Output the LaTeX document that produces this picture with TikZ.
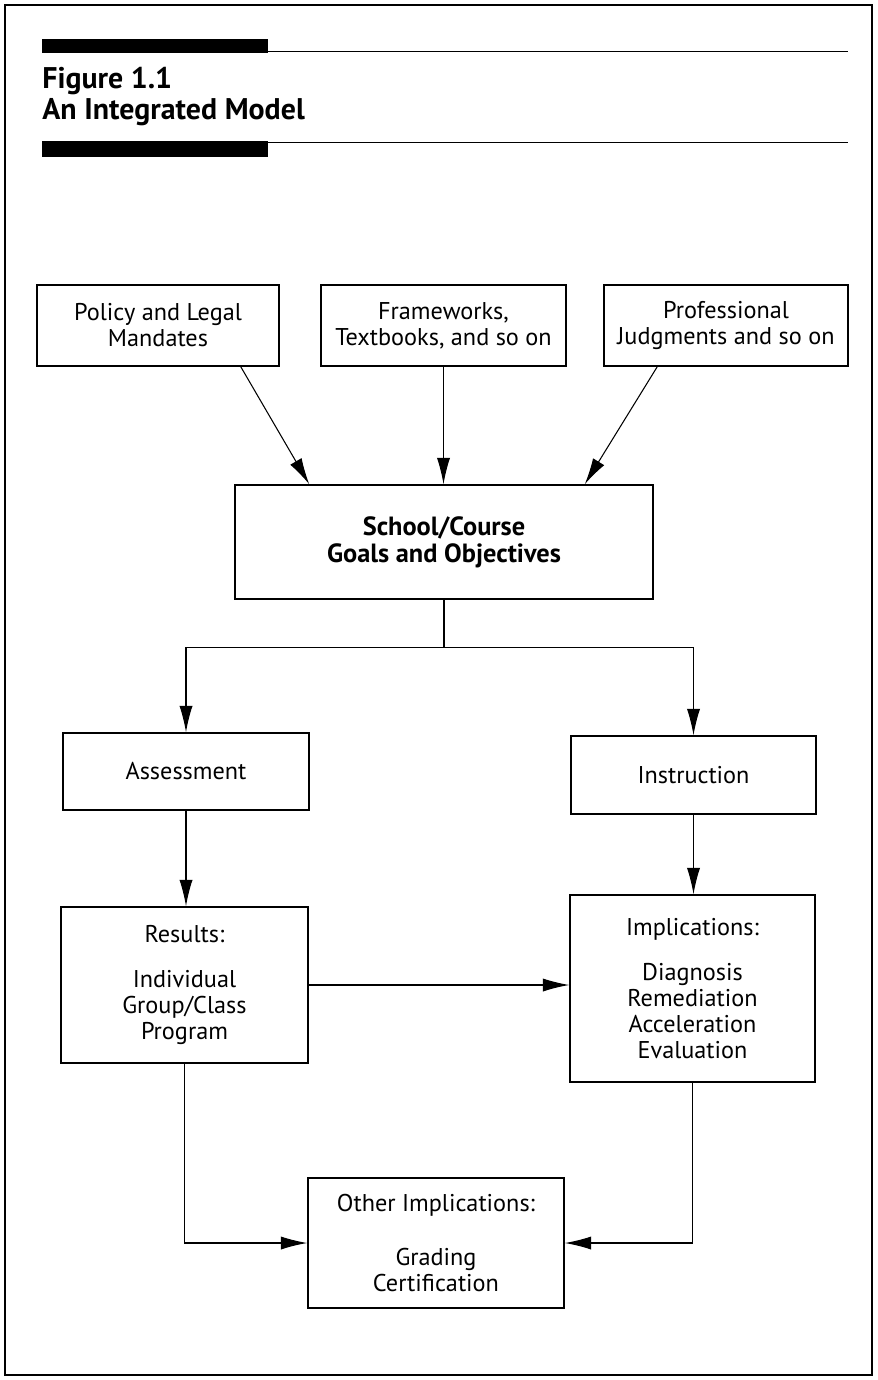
\documentclass[tikz,border=0pt]{standalone}
\usepackage{fontspec}
\setmainfont{PT Sans}
\usetikzlibrary{positioning}
\usetikzlibrary{arrows.meta}

\begin{document}
\begin{tikzpicture}[
    box/.style={
        draw, line width=0.9pt,
        inner sep=0pt, align=center,
        font=\fontsize{13.8}{14.8}\selectfont
    },
    edge/.style={line width=0.6pt, -{Latex[length=15pt,width=7.5pt]}},
    plain edge/.style={line width=0.6pt}
]
\useasboundingbox (0,0) rectangle (17.54,-27.6);
\draw[line width=0.8pt] (0.1,-0.1) rectangle (17.44,-27.5);

% header bars
\fill (0.84,-0.78) rectangle (5.36,-1.06);
\draw[line width=1pt] (5.36,-1.03) -- (16.96,-1.03);
\fill (0.84,-2.82) rectangle (5.36,-3.14);
\draw[line width=1pt] (5.36,-2.85) -- (16.96,-2.85);
\node[anchor=north west, inner sep=0pt, align=left,
      font=\fontsize{17}{17.5}\selectfont\bfseries] (title) at (0.84,-1.34)
      {Figure 1.1\\An Integrated Model};

\node[box, minimum width=4.84cm, minimum height=1.62cm] (pol) at (3.16,-6.51) {Policy and Legal\\Mandates};
\node[box, minimum width=4.9cm, minimum height=1.62cm] (frm) at (8.87,-6.51) {Frameworks,\\Textbooks, and so on};
\node[box, minimum width=4.88cm, minimum height=1.62cm] (pro) at (14.52,-6.51) {Professional\\Judgments and so on};
\node[box, minimum width=8.36cm, minimum height=2.28cm,
      font=\fontsize{15}{15.4}\selectfont\bfseries] (goal) at (8.88,-10.84) {School/Course\\Goals and Objectives};
\node[box, minimum width=4.92cm, minimum height=1.54cm] (asm) at (3.72,-15.43) {Assessment};
\node[box, minimum width=4.9cm, minimum height=1.56cm] (ins) at (13.87,-15.5) {Instruction};
\node[box, minimum width=4.94cm, minimum height=3.12cm] (res) at (3.69,-19.7) {Results:\\[10.8pt]Individual\\Group/Class\\Program};
\node[box, minimum width=4.9cm, minimum height=3.74cm] (imp) at (13.85,-19.77) {Implications:\\[10.8pt]Diagnosis\\Remediation\\Acceleration\\Evaluation};
\node[box, minimum width=5.12cm, minimum height=2.6cm] (oth) at (8.72,-24.86) {Other Implications:\\[15.9pt]Grading\\Certification};

\draw[edge] ([xshift=-0.78cm]pol.south east) -- ([xshift=1.5cm]goal.north west);
\draw[edge] (frm.south) -- (frm.south |- goal.north);
\draw[edge] ([xshift=1.08cm]pro.south west) -- ([xshift=-1.38cm]goal.north east);

\coordinate (fork) at ([yshift=-0.96cm]goal.south);
\draw[plain edge] (goal.south) -- (fork);
\draw[edge] (fork) -| (asm.north);
\draw[edge] (fork) -| (ins.north);

\draw[edge] (asm.south) -- (asm.south |- res.north);
\draw[edge] (ins.south) -- (ins.south |- imp.north);
\draw[edge] (res.east) -- (res.east -| imp.west);
\draw[edge] (res.south) |- (oth.west);
\draw[edge] (imp.south) |- (oth.east);
\end{tikzpicture}
\end{document}
